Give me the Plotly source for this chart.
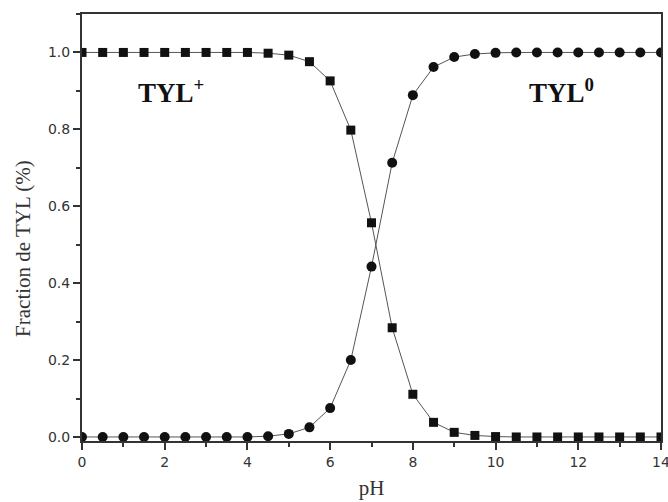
import plotly.graph_objects as go

# pH values (0 to 14 in steps of 0.5)
ph = [i * 0.5 for i in range(29)]

# Fraction of protonated tylosin (TYL+)
tyl_plus = [1.0, 1.0, 1.0, 1.0, 1.0, 1.0, 1.0, 1.0, 1.0, 0.998, 0.993, 0.976, 0.926,
            0.798, 0.557, 0.284, 0.111, 0.038, 0.012, 0.004, 0.001, 0.0, 0.0, 0.0,
            0.0, 0.0, 0.0, 0.0, 0.0]

# Fraction of neutral tylosin (TYL0)
tyl_zero = [0.0, 0.0, 0.0, 0.0, 0.0, 0.0, 0.0, 0.0, 0.0, 0.002, 0.008, 0.025, 0.075,
            0.200, 0.443, 0.713, 0.889, 0.962, 0.988, 0.996, 0.999, 1.0, 1.0, 1.0,
            1.0, 1.0, 1.0, 1.0, 1.0]

line_style = dict(color="#555555", width=1)

fig = go.Figure()
fig.add_trace(go.Scatter(
    x=ph, y=tyl_plus, mode="lines+markers", name="TYL+",
    line=line_style,
    marker=dict(symbol="square", size=9, color="#111111"),
    cliponaxis=True,
))
fig.add_trace(go.Scatter(
    x=ph, y=tyl_zero, mode="lines+markers", name="TYL0",
    line=line_style,
    marker=dict(symbol="circle", size=10, color="#111111"),
    cliponaxis=True,
))

label_font = dict(family="Liberation Serif", size=27, color="#111111")
fig.add_annotation(x=2.15, y=0.9, text="<b>TYL<sup>+</sup></b>", showarrow=False,
                   font=label_font, xanchor="center", yanchor="middle")
fig.add_annotation(x=11.6, y=0.9, text="<b>TYL<sup>0</sup></b>", showarrow=False,
                   font=label_font, xanchor="center", yanchor="middle")

title_font = dict(family="Liberation Serif", size=21, color="#333333")

# y-axis title, placed slightly below the centre of the axis
fig.add_annotation(xref="paper", yref="paper", x=-0.102, y=0.452,
                   text="Fraction de TYL (%)", textangle=-90, showarrow=False,
                   font=title_font, xanchor="center", yanchor="middle")

axis_common = dict(
    showline=True, linecolor="#333333", linewidth=2, mirror=True,
    showgrid=False, zeroline=False, automargin=False,
    ticks="outside", tickcolor="#333333", tickwidth=2, ticklen=7,
    tickfont=dict(family="DejaVu Sans", size=14, color="#333333"),
    ticklabeloverflow="allow",
)

fig.update_xaxes(
    range=[0, 14], tickmode="linear", tick0=0, dtick=2,
    minor=dict(ticks="outside", dtick=1, ticklen=4, tickwidth=2, tickcolor="#333333"),
    title=dict(text="pH", font=title_font, standoff=12),
    **axis_common,
)
fig.update_yaxes(
    range=[-0.0105, 1.1], tickmode="linear", tick0=0, dtick=0.2, tickformat=".1f",
    minor=dict(ticks="outside", dtick=0.1, ticklen=4, tickwidth=2, tickcolor="#333333"),
    **axis_common,
)

fig.update_layout(
    width=668, height=502,
    margin=dict(l=82, r=7, t=14, b=61),
    paper_bgcolor="white", plot_bgcolor="white",
    showlegend=False,
)

fig.write_html("out.html")
